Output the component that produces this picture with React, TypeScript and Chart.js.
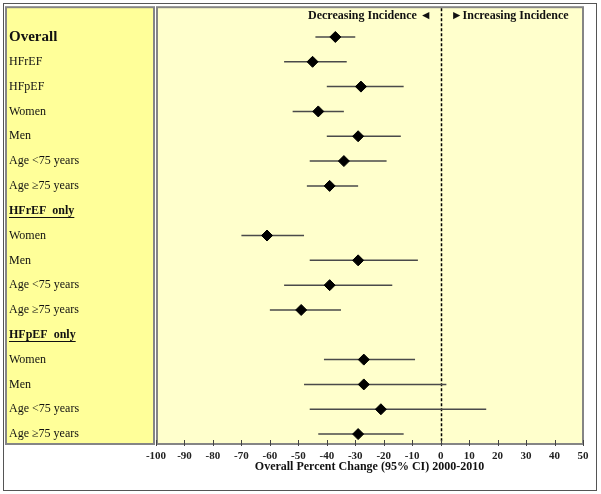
import { useEffect, useRef } from "react";
import { Chart, registerables } from "chart.js";

Chart.register(...registerables);

const rowLabels = [
  "Overall",
  "HFrEF",
  "HFpEF",
  "Women",
  "Men",
  "Age <75 years",
  "Age ≥75 years",
  "HFrEF  only",
  "Women",
  "Men",
  "Age <75 years",
  "Age ≥75 years",
  "HFpEF  only",
  "Women",
  "Men",
  "Age <75 years",
  "Age ≥75 years",
];
const rowKinds = ["title", "row", "row", "row", "row", "row", "row", "header", "row", "row", "row", "row", "header", "row", "row", "row", "row"];
const estimates: (number | null)[] = [-37, -45, -28, -43, -29, -34, -39, null, -61, -29, -39, -49, null, -27, -27, -21, -29];
const lowerCI: (number | null)[] = [-44, -55, -40, -52, -40, -46, -47, null, -70, -46, -55, -60, null, -41, -48, -46, -43];
const upperCI: (number | null)[] = [-30, -33, -13, -34, -14, -19, -29, null, -48, -8, -17, -35, null, -9, 2, 16, -13];
const xTickValues = [-100, -90, -80, -70, -60, -50, -40, -30, -20, -10, 0, 10, 20, 30, 40, 50];
const xTitle = "Overall Percent Change (95% CI) 2000-2010";
const leftHeader = "Decreasing Incidence";
const rightHeader = "Increasing Incidence";

const SERIF = '"Liberation Serif", "Times New Roman", serif';

function labelFont(i: number) {
  const k = rowKinds[i];
  if (k === "title") return { family: SERIF, size: 15, weight: "bold" as const };
  if (k === "header") return { family: SERIF, size: 12, weight: "bold" as const };
  return { family: SERIF, size: 12, weight: "normal" as const };
}

const panelsPlugin = {
  id: "panels",
  beforeDraw(chart: any) {
    const { ctx, chartArea } = chart;
    ctx.save();
    ctx.fillStyle = "#ffffff";
    ctx.fillRect(0, 0, chart.width, chart.height);
    // outer frame
    ctx.strokeStyle = "#555555";
    ctx.lineWidth = 1;
    ctx.strokeRect(3.5, 3.5, 593, 487);
    // left label panel
    ctx.fillStyle = "#ffff99";
    ctx.fillRect(5, chartArea.top, chartArea.left - 6, chartArea.bottom - chartArea.top);
    ctx.strokeStyle = "#858585";
    ctx.lineWidth = 2;
    ctx.strokeRect(6, chartArea.top, chartArea.left - 8, chartArea.bottom - chartArea.top);
    // plot panel
    ctx.fillStyle = "#ffffcc";
    ctx.fillRect(chartArea.left, chartArea.top, chartArea.right - chartArea.left, chartArea.bottom - chartArea.top);
    ctx.strokeRect(chartArea.left + 1, chartArea.top, chartArea.right - chartArea.left - 1, chartArea.bottom - chartArea.top);
    ctx.restore();
  },
  beforeDatasetsDraw(chart: any) {
    const { ctx, chartArea, scales } = chart;
    const x0 = Math.round(scales.x.getPixelForValue(0)) + 0.5;
    ctx.save();
    ctx.strokeStyle = "#000000";
    ctx.lineWidth = 1.5;
    ctx.setLineDash([3, 2]);
    ctx.beginPath();
    ctx.moveTo(x0, chartArea.top + 1);
    ctx.lineTo(x0, chartArea.bottom);
    ctx.stroke();
    ctx.restore();
  },
  afterDraw(chart: any) {
    const { ctx, chartArea, scales } = chart;
    ctx.save();
    // x tick marks crossing the axis
    ctx.strokeStyle = "#444444";
    ctx.lineWidth = 1;
    scales.x.ticks.forEach((t: any) => {
      const px = Math.round(scales.x.getPixelForValue(t.value)) + 0.5;
      ctx.beginPath();
      ctx.moveTo(px, chartArea.bottom - 4);
      ctx.lineTo(px, chartArea.bottom + 2);
      ctx.stroke();
    });
    // underline header rows
    ctx.strokeStyle = "#111111";
    ctx.lineWidth = 1;
    rowLabels.forEach((lab, i) => {
      if (rowKinds[i] !== "header") return;
      const f = labelFont(i);
      ctx.font = `${f.weight} ${f.size}px ${SERIF}`;
      const w = ctx.measureText(lab).width;
      const py = Math.round(scales.y.getPixelForValue(i)) + 6.5;
      ctx.beginPath();
      ctx.moveTo(scales.y.left, py);
      ctx.lineTo(scales.y.left + w, py);
      ctx.stroke();
    });
    // direction headers
    const x0 = scales.x.getPixelForValue(0);
    const ty = chartArea.top + 9;
    ctx.fillStyle = "#111111";
    ctx.textBaseline = "middle";
    ctx.font = `bold 12px ${SERIF}`;
    ctx.textAlign = "right";
    ctx.fillText(leftHeader + " ◄", x0 - 9, ty);
    ctx.textAlign = "left";
    ctx.fillText("►" + rightHeader, x0 + 10, ty);
    ctx.restore();
  },
};

export default function App() {
  const ref = useRef<HTMLCanvasElement | null>(null);
  useEffect(() => {
    if (!ref.current) return;
    const idx = rowLabels.map((_, i) => i).filter((i) => estimates[i] !== null);
    const ciSets = idx.map((i) => ({
      label: "ci" + i,
      data: [
        { x: lowerCI[i] as number, y: i },
        { x: upperCI[i] as number, y: i },
      ],
      showLine: true,
      borderColor: "#4a4a4a",
      borderWidth: 1.5,
      pointRadius: 0,
      order: 1,
    }));
    const chart = new Chart(ref.current, {
      type: "scatter",
      data: {
        datasets: [
          {
            label: "estimate",
            data: idx.map((i) => ({ x: estimates[i] as number, y: i })),
            pointStyle: "rectRot",
            pointRadius: 5.5,
            backgroundColor: "#000000",
            borderColor: "#000000",
            borderWidth: 1,
            order: 0,
          } as any,
          ...ciSets,
        ],
      },
      options: {
        animation: false,
        responsive: false,
        devicePixelRatio: 1,
        layout: { padding: { left: 9, right: 18, top: 7, bottom: 0 } },
        plugins: { legend: { display: false }, tooltip: { enabled: false } },
        scales: {
          x: {
            type: "linear",
            min: -100,
            max: 50,
            afterBuildTicks: (s: any) => {
              s.ticks = xTickValues.map((v) => ({ value: v }));
            },
            afterFit: (s: any) => {
              s.height = 50;
            },
            grid: { display: false, drawTicks: false },
            border: { display: false },
            ticks: {
              autoSkip: false,
              maxRotation: 0,
              padding: 6,
              color: "#222222",
              font: { family: SERIF, size: 11, weight: "bold" },
            },
            title: {
              display: true,
              text: xTitle,
              color: "#111111",
              font: { family: SERIF, size: 12, weight: "bold" },
              padding: { top: 0, bottom: 20 },
            },
          },
          y: {
            type: "linear",
            reverse: true,
            min: -1.2,
            max: 16.4,
            afterBuildTicks: (s: any) => {
              s.ticks = rowLabels.map((_, i) => ({ value: i }));
            },
            afterFit: (s: any) => {
              s.width = 147;
            },
            grid: { display: false, drawTicks: false },
            border: { display: false },
            ticks: {
              crossAlign: "far",
              autoSkip: false,
              padding: 0,
              color: "#111111",
              callback: (v: any) => rowLabels[v as number] ?? "",
              font: (c: any) => labelFont(c.index),
            },
          },
        },
      },
      plugins: [panelsPlugin],
    } as any);
    return () => chart.destroy();
  }, []);
  return (
    <div style={{ position: "absolute", left: 0, top: 0, width: 601, height: 494 }}>
      <canvas ref={ref} width={601} height={494} style={{ width: 601, height: 494, display: "block" }} />
    </div>
  );
}
